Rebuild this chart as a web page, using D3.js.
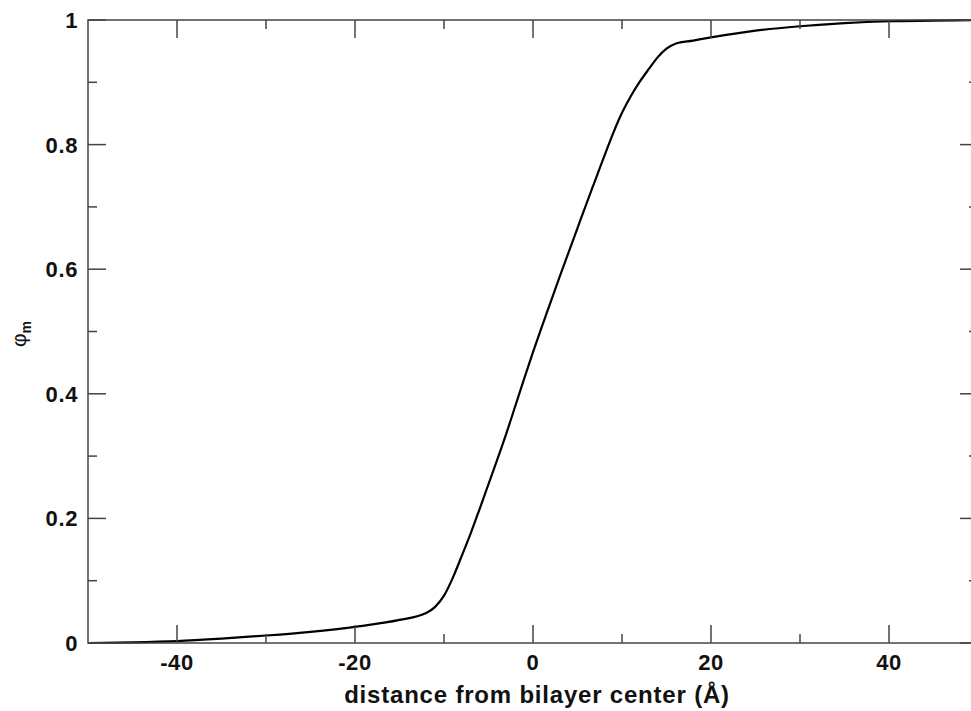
<!DOCTYPE html>
<html><head><meta charset="utf-8">
<script src="https://cdn.jsdelivr.net/npm/d3@7"></script>
<style>body{margin:0;background:#fff;} svg{display:block;}</style>
</head><body>
<svg id="c" width="971" height="711"></svg>
<script>
const distance = [-50,-45,-40,-35,-30,-25,-20,-15,-12,-11,-10,-9,-8,-7,-6,-5,-4,-3,-2,-1,0,1,2,3,4,5,6,7,8,9,10,11,12,13,14,15,16,18,20,25,30,35,40,45,50];
const phiM =     [0,0.001,0.003,0.007,0.012,0.018,0.026,0.037,0.048,0.058,0.076,0.105,0.14,0.176,0.215,0.255,0.295,0.336,0.38,0.424,0.467,0.508,0.548,0.588,0.627,0.666,0.705,0.743,0.781,0.818,0.851,0.878,0.901,0.921,0.94,0.954,0.962,0.967,0.972,0.983,0.99,0.995,0.998,0.999,1.0];
const xMajor = [-40,-20,0,20,40];
const xMinor = [-30,-10,10,30];
const yMajor = [0,0.2,0.4,0.6,0.8,1];
const yMinor = [0.1,0.3,0.5,0.7,0.9];
const yLabels = ["0","0.2","0.4","0.6","0.8","1"];

const L=88, R=978, T=20, B=643;
const x = d3.scaleLinear().domain([-50,50]).range([L,R]);
const y = d3.scaleLinear().domain([0,1]).range([B,T]);
const svg = d3.select("#c");
const font = "'Liberation Sans', Arial, sans-serif";
const axCol = "#444";

// curve
const line = d3.line().x((d,i)=>x(distance[i])).y(d=>y(d)).curve(d3.curveMonotoneX);
svg.append("path").datum(phiM).attr("d",line).attr("fill","none").attr("stroke","#000").attr("stroke-width",2.2);

// frame
svg.append("rect").attr("x",L).attr("y",T).attr("width",R-L).attr("height",B-T)
  .attr("fill","none").attr("stroke",axCol).attr("stroke-width",1.5);

const g = svg.append("g").attr("stroke",axCol).attr("stroke-width",1.5);
const maj=18, mnr=9;
xMajor.forEach(v=>{ g.append("line").attr("x1",x(v)).attr("x2",x(v)).attr("y1",B).attr("y2",B-maj);
  g.append("line").attr("x1",x(v)).attr("x2",x(v)).attr("y1",T).attr("y2",T+maj);});
xMinor.forEach(v=>{ g.append("line").attr("x1",x(v)).attr("x2",x(v)).attr("y1",B).attr("y2",B-mnr);
  g.append("line").attr("x1",x(v)).attr("x2",x(v)).attr("y1",T).attr("y2",T+mnr);});
yMajor.forEach(v=>{ g.append("line").attr("y1",y(v)).attr("y2",y(v)).attr("x1",L).attr("x2",L+maj);
  g.append("line").attr("y1",y(v)).attr("y2",y(v)).attr("x1",R).attr("x2",R-maj);});
yMinor.forEach(v=>{ g.append("line").attr("y1",y(v)).attr("y2",y(v)).attr("x1",L).attr("x2",L+mnr);
  g.append("line").attr("y1",y(v)).attr("y2",y(v)).attr("x1",R).attr("x2",R-mnr);});

// tick labels
svg.selectAll(".xl").data(xMajor).enter().append("text")
  .attr("x",d=>x(d)).attr("y",B+27).attr("text-anchor","middle")
  .attr("font-family",font).attr("font-weight","bold").attr("font-size",22).attr("letter-spacing",0.6).attr("fill","#111")
  .text(d=>d);
svg.selectAll(".yl").data(yMajor).enter().append("text")
  .attr("x",L-10).attr("y",d=>y(d)+8).attr("text-anchor","end")
  .attr("font-family",font).attr("font-weight","bold").attr("font-size",22).attr("letter-spacing",0.6).attr("fill","#111")
  .text((d,i)=>yLabels[i]);

// axis titles
svg.append("text").attr("x",537).attr("y",703).attr("text-anchor","middle")
  .attr("font-family",font).attr("font-weight","bold").attr("font-size",24).attr("letter-spacing",0.8).attr("fill","#111")
  .text("distance from bilayer center (Å)");
const yt = svg.append("text").attr("transform","translate(26,334) rotate(-90)").attr("text-anchor","middle")
  .attr("font-family",font).attr("font-size",21).attr("fill","#111");
yt.append("tspan").text("φ");
yt.append("tspan").attr("dy",5).attr("font-size",14).attr("font-weight","bold").text("m");
</script>
</body></html>
